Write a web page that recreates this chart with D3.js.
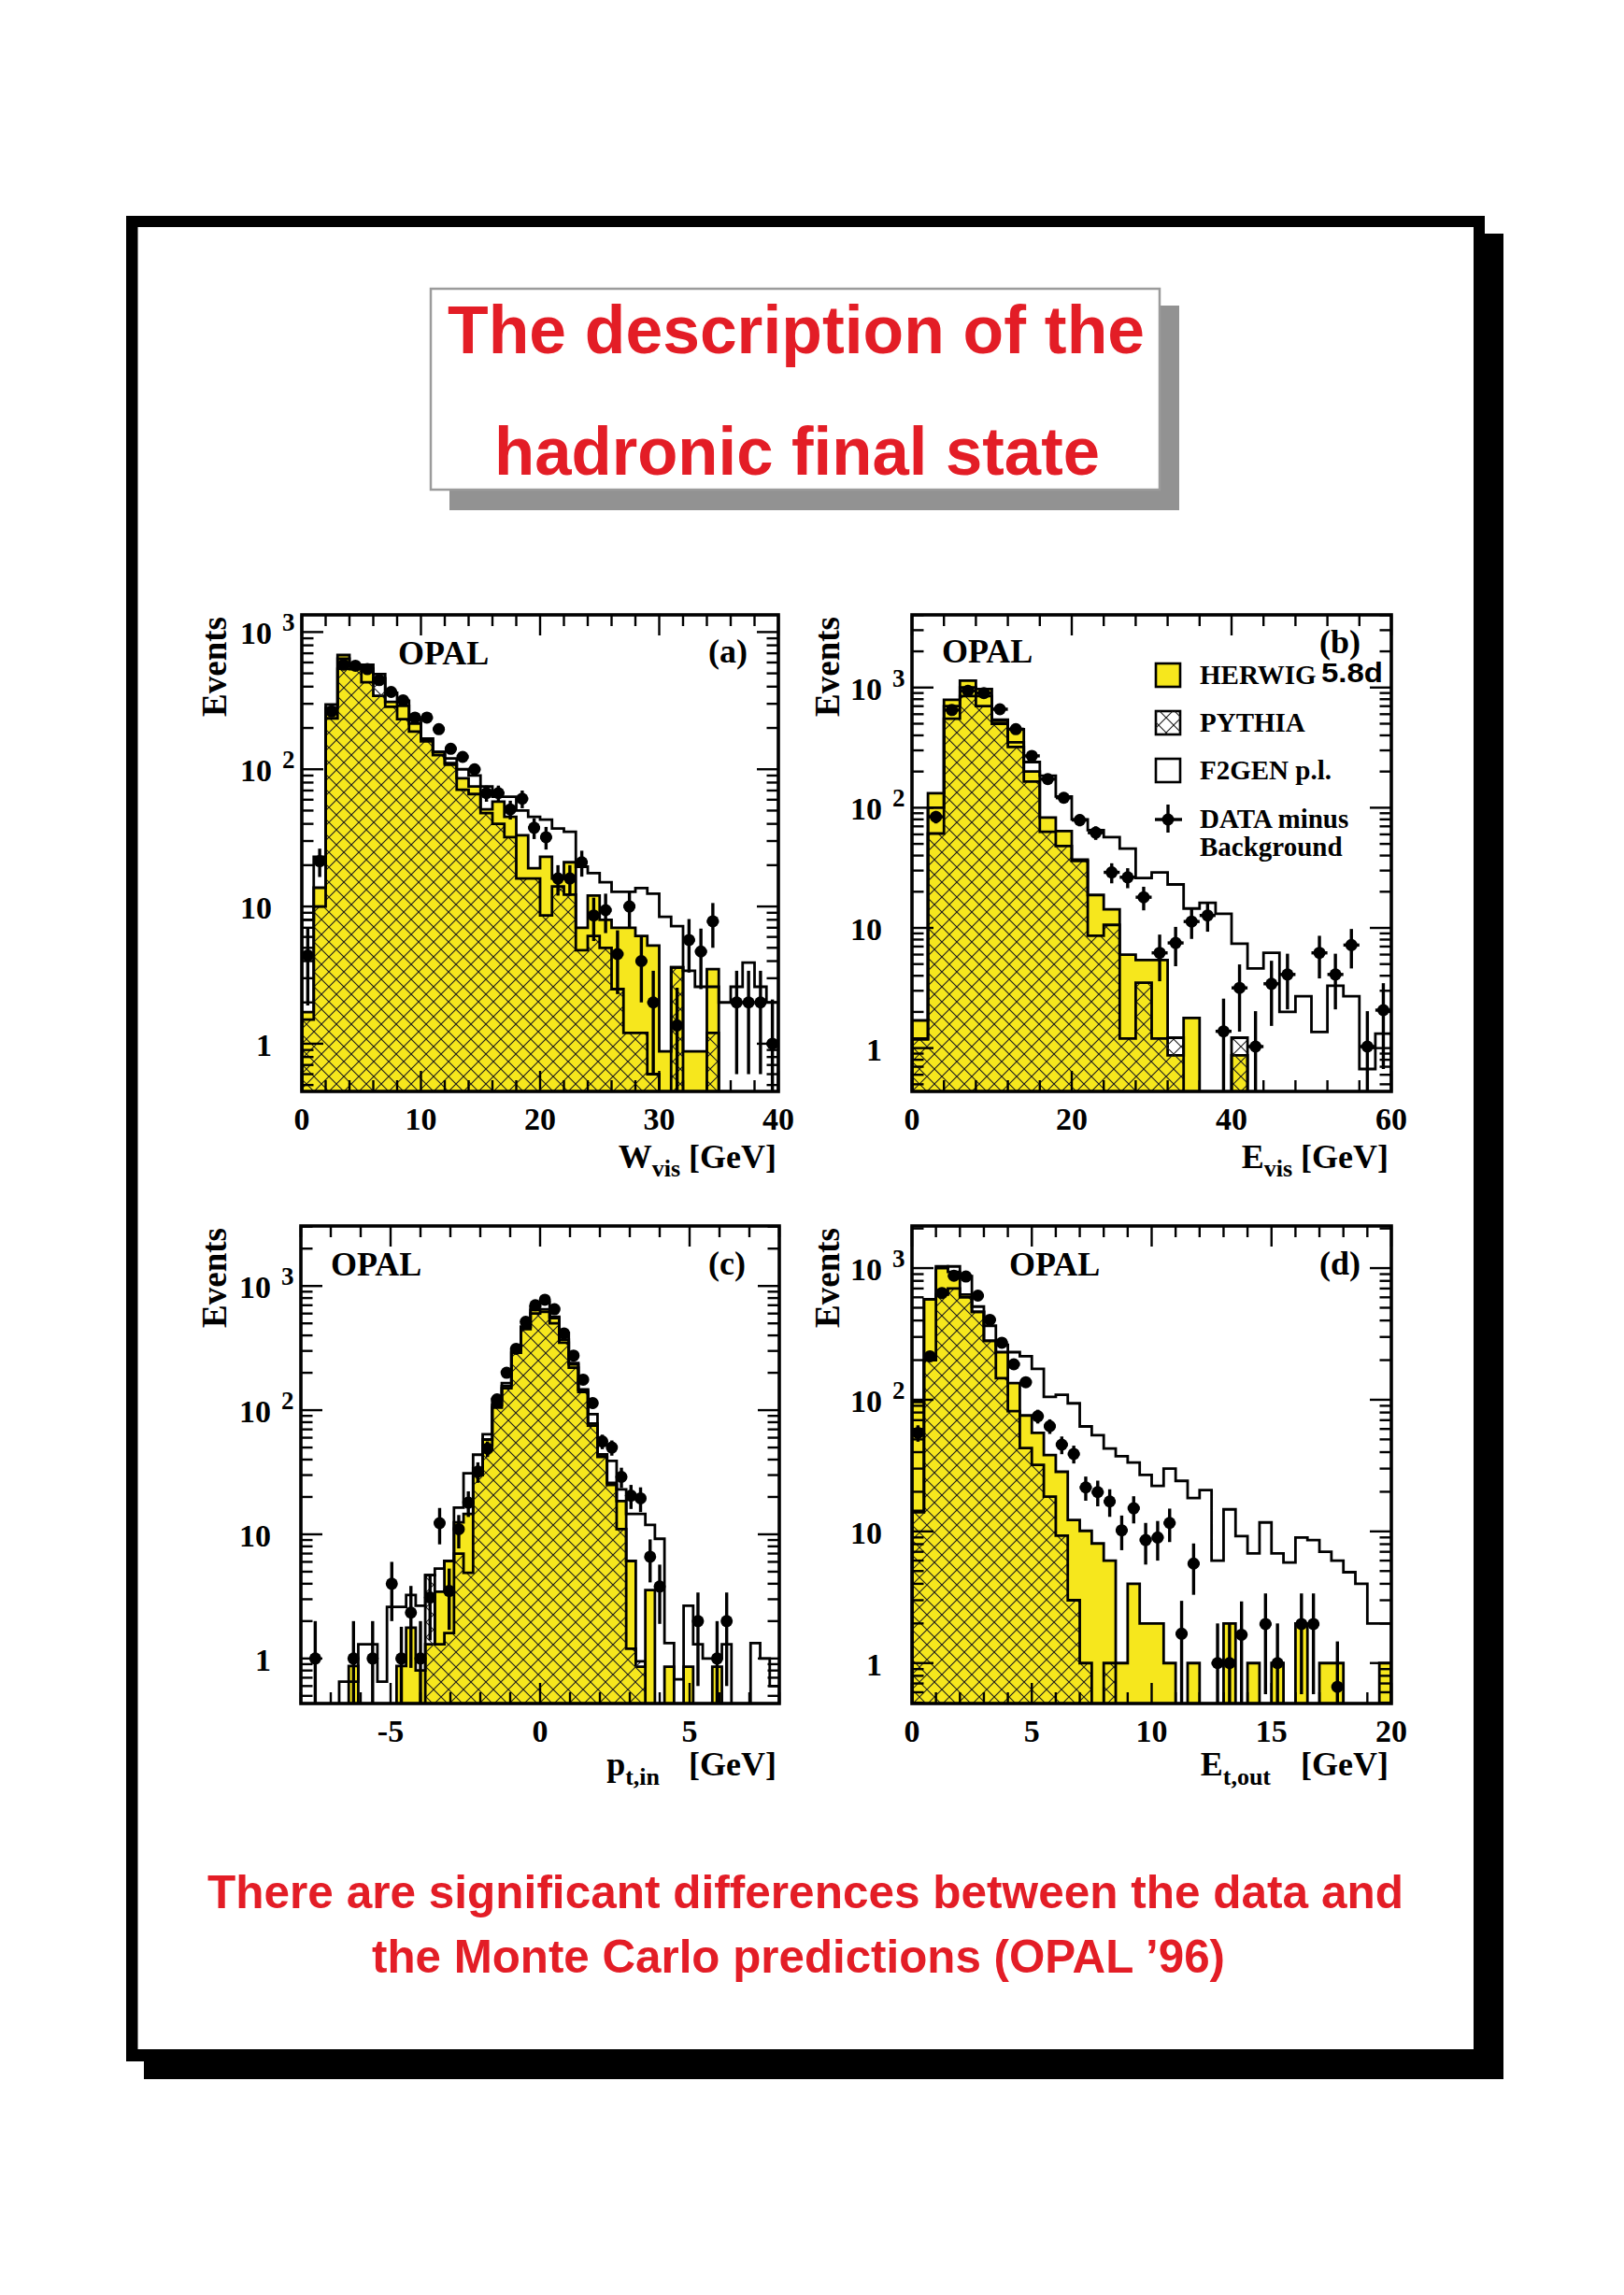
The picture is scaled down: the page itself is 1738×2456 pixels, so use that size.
<!DOCTYPE html>
<html><head><meta charset="utf-8">
<script src="https://cdn.jsdelivr.net/npm/d3@7"></script>
<style>
body{margin:0;background:#fff}
.serif{font-family:"Liberation Serif","Times New Roman",Times,serif;font-weight:bold}
.sans{font-family:"Liberation Sans",Arial,Helvetica,sans-serif;font-weight:bold}
</style>
</head><body>
<svg id="chart" width="1738" height="2456" xmlns="http://www.w3.org/2000/svg"></svg>
<script>
// ---------------- DATA ----------------
// Panel (a): W_vis, 40 bins 0..40 GeV
const herwigA = [1.7,13.7,280,680,578,540,343,310,290,215,167,134,111,86,75,51,58,45,33,19,23,16,21,7,12,8,7,7,6.1,5.2,0.88,3.6,0.88,0.88,3.5,0,0,0,0,0];
const pythiaA = [1.5,10,235,540,537,430,460,285,232,188,160,127,108,71,66,48,40,32,16,16,8.6,14,12.2,4.8,6.1,5,2.5,1.2,1.2,0.6,0,3.6,0,0,1.2,0,0,0,0,0];
const f2genA  = [8,23,296,640,560,578,494,361,316,232,167,134,120,100,90,75,63,63,50,45,43,37,35,19.5,17.5,15,12.8,12.8,13.6,12.4,8.4,7.2,3.4,2.6,2.6,2.0,2.6,3.9,2.6,2.0];
const dataA   = [4.4,21.4,264,578,568,537,446,366,318,238,238,196,141,123,100,67,67,51,61,37.5,32,16,16,21,8.6,9.4,4.5,10,4.0,2.0,0,1.36,5.7,4.7,7.8,0,2,2,2,1];
const errA    = [2.5,5,17,25,24,23,22,19,18,15,15,14,12,11,10,9,9,8,9,6.5,6,4,4,4.5,3,3,2.2,3,2,1.4,0,1.2,2.4,2.2,2.8,0,1.4,1.4,1.4,1.1];

// Panel (b): E_vis, 30 bins 0..60 GeV
const herwigB = [1.7,132,790,1140,970,540,450,200,83,64,37,18.8,14.3,6.0,5.4,5.4,0.87,1.78,0,0,0.87,0,0,0,0,0,0,0,0,0];
const pythiaB = [1.18,61,550,850,700,500,320,165,63,48,36,8.6,10.6,1.2,3.5,1.2,1.22,0,0,0,1.22,0,0,0,0,0,0,0,0,0];
const f2genB  = [1.2,100,700,1000,850,530,350,240,185,124,80,65,57,45.7,26,29,23,14.5,16.2,13.1,7.4,4.6,6.2,2.0,2.7,1.36,3.3,2.7,0.67,1.32];
const dataB   = [0,84,650,940,900,660,450,270,173,121,79,62,29,26.4,18,6.2,7.5,11.3,12.7,1.38,3.17,1.03,3.43,4.1,0,6.2,4.1,7.2,1.03,2.07];
const errB    = [0,10,26,31,30,26,21,17,13,11,9,8,5.5,5,4,2.6,2.7,3.2,3.4,1.2,1.8,1,1.9,2,0,2.4,2,2.6,1,1.4];

// Panel (c): p_t,in, 50 bins -8..8 GeV
const herwigC = [0,0,0,0,0,0.87,0,0,0,0,0.87,1.77,0.8,1.3,3.45,6.1,12.5,14.6,34,58,110,156,305,470,640,650,550,370,234,145,78,44,26,18.5,6.1,0.86,3.55,0,0.86,0,0.86,0,0,0.86,0,0,0,0,0,0];
const pythiaC = [0,0,0,0,0,0,0,0,0,0,0,0,0,4.7,1.3,1.6,7,4.9,30,52,105,150,290,450,600,620,500,350,220,140,75,42,25,11,1.2,0.95,0,0,0,0,0,0,0,0,0,0,0,0,0,0];
const f2genC  = [0,0,0,0,0.65,0.65,1.3,1.3,0.65,2.6,2.6,3.25,2.66,4.7,5.3,6.1,16.4,31,43.8,64,123,165,314,470,680,740,565,420,240,147,93,44,39,23,14.6,14.6,11.9,9.2,1.33,0.68,2.66,1.3,1.0,1.0,1.3,0,0,1.33,1.0,0.6];
const dataC   = [0,1,0,0,0,1,0,1,0,4.0,1,2.34,1,3.1,12.3,3.5,11,18,32,49,122,200,312,515,700,775,650,415,275,176,114,56,50,29,20.5,19.5,6.6,3.8,0,0,0,2.0,0,1,2.0,0,0,0,0,0];
const errC    = [0,1,0,0,0,1,0,1,0,2,0.8,1.5,1,1.7,4,1.8,3.3,4.2,6,7,11,14,18,23,26,28,25,20,17,13,11,7.5,7,5.4,4.5,4.4,2.5,1.9,0,0,0,1.4,0,1,1.4,0,0,0,0,0];

// Panel (d): E_t,out, 40 bins 0..20 GeV
const herwigD = [96,580,1030,935,630,465,280,230,134,76,56,38,28.4,12.2,10.1,8.1,6,1,4.0,2.0,2.0,1,0,1,0,0,2.0,0,1,0,1,0,2,0,1,1,0,0,0,1];
const pythiaD = [14.3,200,630,700,600,465,280,146,82,43,32,18.4,9.3,3.0,1.0,0,1.0,0,0,0,0,0,0,0,0,0,0,0,0,0,0,0,0,0,0,0,0,0,0,0];
const f2genD  = [14,580,1000,1030,870,510,365,262,230,214,172,105,109,94,62.7,53.8,42.7,37.3,33.4,26.9,22.2,30,24.2,17.9,20.6,6,14.7,9.2,6.8,11.7,6.8,5.8,9,8.6,7,6,4.9,4.0,2.0,2.0];
const dataD   = [56,214,647,875,863,618,405,271,186,136,75,63,45.6,38.8,21.6,19.9,16.9,10.2,15,8.6,9.0,11.6,1.67,5.7,0,1,1,1.64,0,1.98,1,0,1.98,1.98,0,0.66,0,0,0,0];
const errD    = [8,15,25,30,29,25,20,16,14,12,9,8,7,6,4.5,4.4,4,3,3.5,3,3,3.3,1.3,2.4,0,1,1,1.3,0,1.4,1,0,1.4,1.4,0,0.8,0,0,0,0];

// tick labels
const xTicksA = [0,10,20,30,40];
const xTicksB = [0,20,40,60];
const xTicksC = [-5,0,5];
const xTicksD = [0,5,10,15,20];
const yTicks  = [1,10,100,1000];
const legendLabels = ["HERWIG","PYTHIA","F2GEN p.l.","DATA minus","Background"];
const titleLines = ["The description of the","hadronic final state"];
const footerLines = ["There are significant differences between the data and","the Monte Carlo predictions (OPAL \u201996)"];

// ---------------- LAYOUT ----------------
const YELLOW = "#f6e71d", RED = "#e31d26";
const svg = d3.select("#chart");
const defs = svg.append("defs");
const pat = defs.append("pattern").attr("id","xhatch").attr("patternUnits","userSpaceOnUse")
  .attr("width",16).attr("height",16);
pat.append("path").attr("d","M-2,-2L18,18M18,-2L-2,18").attr("stroke","#1c1c1c").attr("stroke-width",1.1).attr("fill","none");

// page frame
svg.append("rect").attr("x",154).attr("y",250).attr("width",1455).attr("height",1975).attr("fill","#000");
svg.append("rect").attr("x",135).attr("y",231).attr("width",1454).attr("height",1975).attr("fill","#000");
svg.append("rect").attr("x",147.5).attr("y",243).attr("width",1429.5).attr("height",1950).attr("fill","#fff");

// title box
svg.append("rect").attr("x",481).attr("y",327).attr("width",781).attr("height",219).attr("fill","#929292");
svg.append("rect").attr("x",461).attr("y",309).attr("width",780).attr("height",215).attr("fill","#fff")
  .attr("stroke","#9b9b9b").attr("stroke-width",2.5);
const titlePos = [{x:479,y:378,len:746},{x:529,y:508,len:648}];
titleLines.forEach((t,i)=>{
  svg.append("text").attr("class","sans").attr("x",titlePos[i].x).attr("y",titlePos[i].y)
    .attr("font-size",72).attr("fill",RED).attr("textLength",titlePos[i].len)
    .attr("lengthAdjust","spacingAndGlyphs").text(t);
});
const footPos = [{x:222,y:2042,len:1280},{x:398,y:2111,len:913}];
footerLines.forEach((t,i)=>{
  svg.append("text").attr("class","sans").attr("x",footPos[i].x).attr("y",footPos[i].y)
    .attr("font-size",50).attr("fill",RED).attr("textLength",footPos[i].len)
    .attr("lengthAdjust","spacingAndGlyphs").text(t);
});

const panels = [
  {id:"a", x0:323, x1:833, y0:658, y1:1168, xDom:[0,40], yDom:[0.449,1334],
   herwig:herwigA, pythia:pythiaA, f2gen:f2genA, data:dataA, err:errA,
   xTicks:xTicksA, xMinor:2, opal:[426,711], tag:["(a)",758,709], evX:242,
   xtitle:{type:1, main:"W", sub:"vis", x:831, y:1250}},
  {id:"b", x0:976, x1:1489, y0:658, y1:1168, xDom:[0,60], yDom:[0.436,4024],
   herwig:herwigB, pythia:pythiaB, f2gen:f2genB, data:dataB, err:errB,
   xTicks:xTicksB, xMinor:4, opal:[1008,709], tag:["(b)",1412,699], evX:898,
   xtitle:{type:1, main:"E", sub:"vis", x:1486, y:1250}},
  {id:"c", x0:322, x1:834, y0:1312, y1:1823, xDom:[-8,8], yDom:[0.434,3043],
   herwig:herwigC, pythia:pythiaC, f2gen:f2genC, data:dataC, err:errC,
   xTicks:xTicksC, xMinor:1, opal:[354,1365], tag:["(c)",758,1364], evX:242,
   xtitle:{type:2, main:"p", sub:"t,in", x:706, gx:831, y:1900}},
  {id:"d", x0:976, x1:1489, y0:1312, y1:1823, xDom:[0,20], yDom:[0.493,2089],
   herwig:herwigD, pythia:pythiaD, f2gen:f2genD, data:dataD, err:errD,
   xTicks:xTicksD, xMinor:1, opal:[1080,1365], tag:["(d)",1412,1364], evX:898,
   xtitle:{type:2, main:"E", sub:"t,out", x:1360, gx:1486, y:1900}}
];

function drawPanel(p){
  const xs = d3.scaleLinear().domain(p.xDom).range([p.x0,p.x1]);
  const ys = d3.scaleLog().domain(p.yDom).range([p.y1,p.y0]);
  const g = svg.append("g");
  defs.append("clipPath").attr("id","clip"+p.id).append("rect")
    .attr("x",p.x0).attr("y",p.y0).attr("width",p.x1-p.x0).attr("height",p.y1-p.y0);
  const body = g.append("g").attr("clip-path","url(#clip"+p.id+")");
  const n = p.herwig.length, bw = (p.xDom[1]-p.xDom[0])/n;
  const yb = p.y1 + 3;
  const yOf = v => v > 0 ? Math.max(p.y0-3, Math.min(yb, ys(v))) : yb;
  const pts = vals => {
    const a = [[xs(p.xDom[0]), yb]];
    vals.forEach((v,i)=>{ const y = yOf(v); a.push([xs(p.xDom[0]+i*bw),y],[xs(p.xDom[0]+(i+1)*bw),y]); });
    a.push([xs(p.xDom[1]), yb]);
    return a;
  };
  const line = d3.line();
  const hw = pts(p.herwig), py = pts(p.pythia), f2 = pts(p.f2gen);
  body.append("path").attr("d",line(hw)+"Z").attr("fill",YELLOW);
  body.append("path").attr("d",line(hw)).attr("fill","none").attr("stroke","#000").attr("stroke-width",2.8);
  body.append("path").attr("d",line(py)+"Z").attr("fill","url(#xhatch)");
  body.append("path").attr("d",line(py)).attr("fill","none").attr("stroke","#000").attr("stroke-width",2.8);
  body.append("path").attr("d",line(f2)).attr("fill","none").attr("stroke","#000").attr("stroke-width",2.8);
  // data points
  p.data.forEach((d,i)=>{
    if(!(d>0)) return;
    const xa = xs(p.xDom[0]+i*bw), xb = xs(p.xDom[0]+(i+1)*bw), cx=(xa+xb)/2, cy=ys(d);
    const e = p.err[i];
    const yLo = (d-e)>0 ? Math.min(yb, ys(d-e)) : yb;
    const yHi = Math.max(p.y0, ys(d+e));
    body.append("line").attr("x1",cx).attr("x2",cx).attr("y1",yLo).attr("y2",yHi).attr("stroke","#000").attr("stroke-width",3.4);
    body.append("line").attr("x1",xa).attr("x2",xb).attr("y1",cy).attr("y2",cy).attr("stroke","#000").attr("stroke-width",3.4);
    body.append("circle").attr("cx",cx).attr("cy",cy).attr("r",6.5).attr("fill","#000");
  });
  // frame
  g.append("rect").attr("x",p.x0).attr("y",p.y0).attr("width",p.x1-p.x0).attr("height",p.y1-p.y0)
    .attr("fill","none").attr("stroke","#000").attr("stroke-width",3.6);
  // x ticks
  const tk = g.append("g").attr("stroke","#000").attr("stroke-width",2.4);
  const minors = d3.range(p.xDom[0], p.xDom[1]+1e-9, p.xMinor);
  minors.forEach(v=>{
    const isMaj = p.xTicks.some(t=>Math.abs(t-v)<1e-9);
    const L = isMaj ? 22 : 12, x = xs(v);
    tk.append("line").attr("x1",x).attr("x2",x).attr("y1",p.y1).attr("y2",p.y1-L);
    tk.append("line").attr("x1",x).attr("x2",x).attr("y1",p.y0).attr("y2",p.y0+L);
  });
  // y ticks
  const lo = Math.floor(Math.log10(p.yDom[0])), hi = Math.ceil(Math.log10(p.yDom[1]));
  for(let e=lo;e<=hi;e++){
    for(let k=1;k<=9;k++){
      const v = k*Math.pow(10,e);
      if(v<p.yDom[0]||v>p.yDom[1]) continue;
      const L = k===1 ? 23 : 12.5, y = ys(v);
      tk.append("line").attr("x1",p.x0).attr("x2",p.x0+L).attr("y1",y).attr("y2",y);
      tk.append("line").attr("x1",p.x1).attr("x2",p.x1-L).attr("y1",y).attr("y2",y);
    }
  }
  // x tick labels
  p.xTicks.forEach(t=>{
    g.append("text").attr("class","serif").attr("x",xs(t)).attr("y",p.y1+41).attr("text-anchor","middle")
      .attr("font-size",34).text(t<0 ? "-"+Math.abs(t) : String(t));
  });
  // y tick labels
  yTicks.forEach(v=>{
    const y = ys(v), ex = Math.round(Math.log10(v));
    const main = ex===0 ? "1" : "10";
    g.append("text").attr("class","serif").attr("x",p.x0-32).attr("y",y+13).attr("text-anchor","end")
      .attr("font-size",34).text(main);
    if(ex>=2){
      g.append("text").attr("class","serif").attr("x",p.x0-21).attr("y",y-1)
        .attr("font-size",27).text(String(ex));
    }
  });
  // Events
  g.append("text").attr("class","serif").attr("transform",`translate(${p.evX},${p.y0+2}) rotate(-90)`)
    .attr("text-anchor","end").attr("font-size",37).text("Events");
  // OPAL + tag
  g.append("text").attr("class","serif").attr("x",p.opal[0]).attr("y",p.opal[1]).attr("font-size",36).text("OPAL");
  g.append("text").attr("class","serif").attr("x",p.tag[1]).attr("y",p.tag[2]).attr("font-size",36).text(p.tag[0]);
  // x title
  const xt = p.xtitle;
  if(xt.type===1){
    const t = g.append("text").attr("class","serif").attr("x",xt.x).attr("y",xt.y).attr("text-anchor","end").attr("font-size",36);
    t.append("tspan").text(xt.main);
    t.append("tspan").attr("dy",9).attr("font-size",26).text(xt.sub);
    t.append("tspan").attr("dy",-9).text(" [GeV]");
  } else {
    const t = g.append("text").attr("class","serif").attr("x",xt.x).attr("y",xt.y).attr("text-anchor","end").attr("font-size",36);
    t.append("tspan").text(xt.main);
    t.append("tspan").attr("dy",10).attr("font-size",26).text(xt.sub);
    g.append("text").attr("class","serif").attr("x",xt.gx).attr("y",xt.y).attr("text-anchor","end").attr("font-size",36).text("[GeV]");
  }
  return {xs,ys};
}
panels.forEach(drawPanel);

// legend in panel (b)
const lg = svg.append("g");
lg.append("rect").attr("x",1237).attr("y",710).attr("width",26).attr("height",25).attr("fill",YELLOW).attr("stroke","#000").attr("stroke-width",2.6);
lg.append("rect").attr("x",1237).attr("y",761).attr("width",26).attr("height",25).attr("fill","#fff").attr("stroke","#000").attr("stroke-width",2.6);
lg.append("rect").attr("x",1237).attr("y",761).attr("width",26).attr("height",25).attr("fill","url(#xhatch)");
lg.append("rect").attr("x",1237).attr("y",812).attr("width",26).attr("height",25).attr("fill","#fff").attr("stroke","#000").attr("stroke-width",2.6);
lg.append("line").attr("x1",1236).attr("x2",1265).attr("y1",877).attr("y2",877).attr("stroke","#000").attr("stroke-width",3.4);
lg.append("line").attr("x1",1250).attr("x2",1250).attr("y1",861).attr("y2",891).attr("stroke","#000").attr("stroke-width",3.4);
lg.append("circle").attr("cx",1250).attr("cy",877).attr("r",6.5).attr("fill","#000");
const legY = [732,783,834,886,916];
legendLabels.forEach((t,i)=>{
  lg.append("text").attr("class","serif").attr("x",1284).attr("y",legY[i]).attr("font-size",29).text(t);
});
lg.append("text").attr("class","sans").attr("x",1414).attr("y",730).attr("font-size",29)
  .attr("textLength",66).attr("lengthAdjust","spacingAndGlyphs").text("5.8d");
</script>
</body></html>
